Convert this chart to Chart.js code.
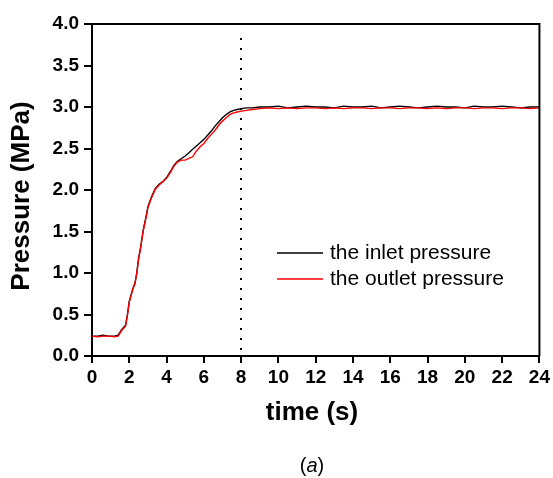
<!DOCTYPE html>
<html>
<head>
<meta charset="utf-8">
<script src="https://cdn.jsdelivr.net/npm/chart.js@4.4.0/dist/chart.umd.min.js"></script>
<style>
  html, body { margin: 0; padding: 0; background: #fff; }
  #wrap { width: 553px; height: 478px; position: relative; }
</style>
</head>
<body>
<div id="wrap"><canvas id="chart" width="553" height="478"></canvas></div>
<script>
// time (s)
const time = [0, 0.3, 0.6, 0.9, 1.2, 1.4, 1.6, 1.8, 1.9, 2.0, 2.1, 2.2, 2.3, 2.4, 2.5, 2.6, 2.75, 2.9, 3.0,
  3.2, 3.4, 3.6, 3.8, 4.0, 4.2, 4.4, 4.6, 4.8, 5.0, 5.2, 5.4, 5.6, 5.8, 6.0, 6.2, 6.4, 6.6, 6.8, 7.0,
  7.2, 7.4, 7.6, 7.8, 8.0, 8.3, 8.6, 9.0, 9.5, 10, 10.5, 11, 11.5, 12, 12.5, 13, 13.5, 14, 14.5, 15,
  15.5, 16, 16.5, 17, 17.5, 18, 18.5, 19, 19.5, 20, 20.5, 21, 21.5, 22, 22.5, 23, 23.5, 24];

// inlet pressure (MPa), black
const inlet = [0.24, 0.24, 0.25, 0.24, 0.24, 0.25, 0.32, 0.37, 0.50, 0.66, 0.74, 0.82, 0.87, 1.00, 1.18, 1.30, 1.52, 1.68, 1.80,
  1.92, 2.02, 2.07, 2.10, 2.15, 2.22, 2.30, 2.35, 2.38, 2.41, 2.45, 2.49, 2.53, 2.57, 2.61, 2.66, 2.71, 2.77, 2.82, 2.87,
  2.91, 2.94, 2.96, 2.97, 2.98, 2.99, 2.99, 3.00, 3.00, 3.01, 2.99, 3.00, 3.01, 3.00, 3.00, 2.99, 3.01, 3.00, 3.00, 3.01,
  2.99, 3.00, 3.01, 3.00, 2.99, 3.00, 3.01, 3.00, 3.00, 2.99, 3.01, 3.00, 3.00, 3.01, 3.00, 2.99, 3.00, 3.00];

// outlet pressure (MPa), red
const outlet = [0.24, 0.23, 0.24, 0.24, 0.23, 0.24, 0.31, 0.36, 0.49, 0.65, 0.73, 0.81, 0.87, 0.99, 1.17, 1.29, 1.51, 1.67, 1.79,
  1.91, 2.01, 2.06, 2.10, 2.14, 2.21, 2.29, 2.34, 2.36, 2.36, 2.38, 2.40, 2.47, 2.52, 2.56, 2.62, 2.67, 2.72, 2.78, 2.83,
  2.87, 2.91, 2.93, 2.94, 2.95, 2.96, 2.97, 2.98, 2.99, 2.98, 2.99, 2.98, 2.99, 2.99, 2.98, 2.99, 2.98, 2.99, 2.99, 2.98,
  2.99, 2.99, 2.98, 2.99, 2.99, 2.98, 2.99, 2.98, 2.99, 2.99, 2.98, 2.99, 2.99, 2.98, 2.99, 2.99, 2.98, 2.99];

const seriesNames = ['the inlet pressure', 'the outlet pressure'];
const seriesColors = ['#000000', '#ff0000'];
const markerTime = 8;      // dotted vertical line
const markerTop = 3.83;

const toPoints = arr => arr.map((v, i) => ({ x: time[i], y: v }));

const FONT = '"Liberation Sans", Arial, sans-serif';

// frame, dotted marker, titles and legend drawn by hand
const decorations = {
  id: 'decorations',
  beforeDatasetsDraw(chart) {
    const { ctx, scales: { x, y } } = chart;
    const px = Math.round(x.getPixelForValue(markerTime));
    ctx.save();
    ctx.strokeStyle = '#000';
    ctx.lineWidth = 2;
    ctx.setLineDash([2, 8]);
    ctx.beginPath();
    ctx.moveTo(px, y.getPixelForValue(markerTop));
    ctx.lineTo(px, y.getPixelForValue(0));
    ctx.stroke();
    ctx.restore();
  },
  afterDraw(chart) {
    const { ctx, chartArea: a } = chart;
    ctx.save();
    // top + right border
    ctx.strokeStyle = '#000';
    ctx.lineWidth = 2;
    ctx.beginPath();
    ctx.moveTo(a.left, a.top);
    ctx.lineTo(a.right, a.top);
    ctx.lineTo(a.right, a.bottom);
    ctx.stroke();

    ctx.fillStyle = '#000';
    ctx.textAlign = 'center';
    ctx.textBaseline = 'middle';

    // y title
    ctx.save();
    ctx.translate(22, 196);
    ctx.rotate(-Math.PI / 2);
    ctx.font = 'bold 26px ' + FONT;
    ctx.fillText('Pressure (MPa)', 0, 0);
    ctx.restore();

    // x title
    ctx.font = 'bold 26px ' + FONT;
    ctx.fillText('time (s)', 312, 413);

    // caption "(a)" with italic a
    ctx.textAlign = 'left';
    ctx.font = '20px ' + FONT;
    const wp = ctx.measureText('(').width;
    ctx.font = 'italic 20px ' + FONT;
    const wa = ctx.measureText('a').width;
    const startX = 312 - (wp * 2 + wa) / 2;
    ctx.font = '20px ' + FONT;
    ctx.fillText('(', startX, 466);
    ctx.fillText(')', startX + wp + wa, 466);
    ctx.font = 'italic 20px ' + FONT;
    ctx.fillText('a', startX + wp, 466);

    // legend
    ctx.font = '21px ' + FONT;
    const rows = [253, 279];
    rows.forEach((ry, i) => {
      ctx.strokeStyle = seriesColors[i];
      ctx.lineWidth = 1.5;
      ctx.beginPath();
      ctx.moveTo(277, ry);
      ctx.lineTo(323, ry);
      ctx.stroke();
      ctx.fillStyle = '#000';
      ctx.fillText(seriesNames[i], 330, ry);
    });
    ctx.restore();
  }
};

const tickFont = { family: FONT, size: 19, weight: 'bold' };

new Chart(document.getElementById('chart'), {
  type: 'line',
  data: {
    datasets: [
      // red listed first so it is painted on top
      { label: seriesNames[1], data: toPoints(outlet), borderColor: seriesColors[1], borderWidth: 1.4, pointRadius: 0, tension: 0 },
      { label: seriesNames[0], data: toPoints(inlet), borderColor: seriesColors[0], borderWidth: 1.4, pointRadius: 0, tension: 0 }
    ]
  },
  options: {
    responsive: false,
    animation: false,
    events: [],
    layout: { padding: { top: 24, right: 12, left: 0, bottom: 0 } },
    plugins: { legend: { display: false }, tooltip: { enabled: false } },
    scales: {
      x: {
        type: 'linear',
        min: 0, max: 24,
        ticks: { stepSize: 2, color: '#000', font: tickFont, padding: 3, maxRotation: 0 },
        grid: { drawOnChartArea: false, drawTicks: true, tickLength: 7, color: '#000', lineWidth: 2 },
        border: { display: true, color: '#000', width: 2 },
        afterFit(s) { s.height = 122; }
      },
      y: {
        min: 0, max: 4,
        ticks: { stepSize: 0.5, color: '#000', font: tickFont, padding: 5, callback: v => v.toFixed(1) },
        grid: { drawOnChartArea: false, drawTicks: true, tickLength: 8, color: '#000', lineWidth: 2 },
        border: { display: true, color: '#000', width: 2 },
        afterFit(s) { s.width = 92; }
      }
    }
  },
  plugins: [decorations]
});
</script>
</body>
</html>
